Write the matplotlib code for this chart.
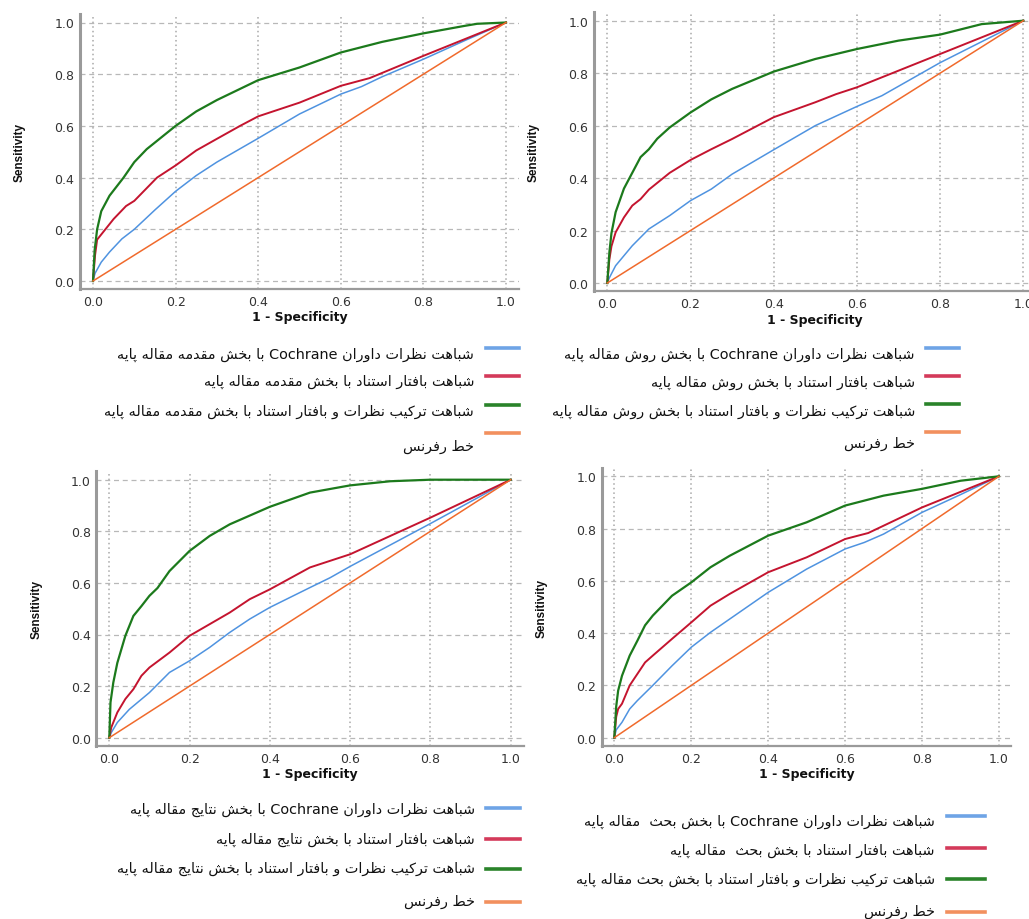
import re
import matplotlib
matplotlib.use("Agg")
import matplotlib.pyplot as plt
from matplotlib.lines import Line2D

# ------------------------------------------------------------------ data
tick_values = [0.0, 0.2, 0.4, 0.6, 0.8, 1.0]
tick_labels = ["0.0", "0.2", "0.4", "0.6", "0.8", "1.0"]
x_label = "1 - Specificity"
y_label = "Sensitivity"

ref_fpr = [0.0, 1.0]
ref_tpr = [0.0, 1.0]

# Panel 1 : introduction (مقدمه)
p1_blue_fpr = [0, 0.005, 0.02, 0.04, 0.07, 0.1, 0.15, 0.2, 0.25, 0.3, 0.4, 0.5, 0.6, 0.65, 0.7, 0.8, 0.9, 1.0]
p1_blue_tpr = [0, 0.03, 0.073, 0.112, 0.163, 0.2, 0.275, 0.347, 0.408, 0.46, 0.552, 0.646, 0.723, 0.752, 0.79, 0.858, 0.93, 1.0]
p1_red_fpr = [0, 0.005, 0.01, 0.03, 0.05, 0.08, 0.1, 0.155, 0.2, 0.25, 0.3, 0.356, 0.4, 0.5, 0.6, 0.67, 0.8, 1.0]
p1_red_tpr = [0, 0.1, 0.16, 0.2, 0.24, 0.29, 0.31, 0.40, 0.447, 0.505, 0.55, 0.60, 0.637, 0.69, 0.755, 0.785, 0.871, 1.0]
p1_green_fpr = [0, 0.004, 0.01, 0.02, 0.04, 0.074, 0.1, 0.13, 0.2, 0.25, 0.3, 0.4, 0.5, 0.6, 0.7, 0.8, 0.9, 0.93, 1.0]
p1_green_tpr = [0, 0.12, 0.2, 0.27, 0.33, 0.40, 0.46, 0.51, 0.60, 0.656, 0.70, 0.777, 0.826, 0.884, 0.925, 0.958, 0.987, 0.995, 1.0]

# Panel 2 : method (روش)
p2_blue_fpr = [0, 0.005, 0.02, 0.04, 0.06, 0.1, 0.15, 0.2, 0.25, 0.3, 0.4, 0.5, 0.6, 0.66, 0.8, 1.0]
p2_blue_tpr = [0, 0.02, 0.066, 0.104, 0.142, 0.206, 0.257, 0.314, 0.358, 0.415, 0.508, 0.60, 0.673, 0.714, 0.84, 1.0]
p2_red_fpr = [0, 0.005, 0.01, 0.02, 0.04, 0.06, 0.08, 0.1, 0.15, 0.2, 0.25, 0.3, 0.4, 0.5, 0.55, 0.6, 0.8, 1.0]
p2_red_tpr = [0, 0.09, 0.14, 0.193, 0.25, 0.295, 0.32, 0.356, 0.42, 0.469, 0.51, 0.549, 0.632, 0.689, 0.72, 0.746, 0.873, 1.0]
p2_green_fpr = [0, 0.005, 0.01, 0.02, 0.04, 0.06, 0.08, 0.1, 0.12, 0.15, 0.2, 0.25, 0.3, 0.4, 0.5, 0.6, 0.7, 0.8, 0.9, 1.0]
p2_green_tpr = [0, 0.117, 0.19, 0.27, 0.36, 0.42, 0.48, 0.51, 0.55, 0.593, 0.65, 0.70, 0.74, 0.806, 0.854, 0.892, 0.924, 0.947, 0.987, 1.0]

# Panel 3 : results (نتایج)
p3_blue_fpr = [0, 0.005, 0.02, 0.05, 0.1, 0.15, 0.2, 0.25, 0.3, 0.35, 0.4, 0.5, 0.55, 0.6, 0.8, 1.0]
p3_blue_tpr = [0, 0.02, 0.059, 0.11, 0.175, 0.253, 0.298, 0.35, 0.408, 0.46, 0.505, 0.582, 0.62, 0.664, 0.83, 1.0]
p3_red_fpr = [0, 0.005, 0.02, 0.04, 0.06, 0.08, 0.1, 0.15, 0.2, 0.25, 0.3, 0.35, 0.4, 0.5, 0.6, 0.8, 1.0]
p3_red_tpr = [0, 0.04, 0.098, 0.15, 0.188, 0.24, 0.272, 0.33, 0.395, 0.44, 0.485, 0.537, 0.575, 0.66, 0.711, 0.853, 1.0]
p3_green_fpr = [0, 0.003, 0.01, 0.02, 0.04, 0.06, 0.08, 0.1, 0.12, 0.15, 0.2, 0.25, 0.3, 0.4, 0.5, 0.6, 0.7, 0.8, 1.0]
p3_green_tpr = [0, 0.137, 0.214, 0.29, 0.395, 0.472, 0.51, 0.55, 0.58, 0.646, 0.724, 0.782, 0.827, 0.895, 0.95, 0.978, 0.994, 1.0, 1.0]

# Panel 4 : discussion (بحث)
p4_blue_fpr = [0, 0.005, 0.02, 0.04, 0.06, 0.1, 0.15, 0.2, 0.25, 0.3, 0.4, 0.5, 0.6, 0.65, 0.7, 0.8, 0.9, 1.0]
p4_blue_tpr = [0, 0.03, 0.059, 0.11, 0.142, 0.2, 0.275, 0.346, 0.403, 0.454, 0.556, 0.645, 0.722, 0.747, 0.779, 0.862, 0.93, 1.0]
p4_red_fpr = [0, 0.005, 0.01, 0.02, 0.04, 0.06, 0.08, 0.1, 0.15, 0.2, 0.25, 0.3, 0.4, 0.5, 0.6, 0.66, 0.8, 1.0]
p4_red_tpr = [0, 0.08, 0.11, 0.13, 0.2, 0.244, 0.288, 0.314, 0.378, 0.441, 0.505, 0.55, 0.633, 0.69, 0.76, 0.783, 0.881, 1.0]
p4_green_fpr = [0, 0.005, 0.01, 0.02, 0.04, 0.06, 0.08, 0.1, 0.15, 0.2, 0.25, 0.3, 0.4, 0.5, 0.6, 0.7, 0.8, 0.9, 1.0]
p4_green_tpr = [0, 0.12, 0.18, 0.237, 0.314, 0.371, 0.43, 0.467, 0.543, 0.594, 0.652, 0.696, 0.773, 0.824, 0.888, 0.926, 0.952, 0.983, 1.0]

p1_labels = ["شباهت نظرات داوران Cochrane با بخش مقدمه مقاله پایه",
             "شباهت بافتار استناد با بخش مقدمه مقاله پایه",
             "شباهت ترکیب نظرات و بافتار استناد با بخش مقدمه مقاله پایه",
             "خط رفرنس"]
p2_labels = ["شباهت نظرات داوران Cochrane با بخش روش مقاله پایه",
             "شباهت بافتار استناد با بخش روش مقاله پایه",
             "شباهت ترکیب نظرات و بافتار استناد با بخش روش مقاله پایه",
             "خط رفرنس"]
p3_labels = ["شباهت نظرات داوران Cochrane با بخش نتایج مقاله پایه",
             "شباهت بافتار استناد با بخش نتایج مقاله پایه",
             "شباهت ترکیب نظرات و بافتار استناد با بخش نتایج مقاله پایه",
             "خط رفرنس"]
p4_labels = ["شباهت نظرات داوران Cochrane با بخش بحث  مقاله پایه",
             "شباهت بافتار استناد با بخش بحث  مقاله پایه",
             "شباهت ترکیب نظرات و بافتار استناد با بخش بحث مقاله پایه",
             "خط رفرنس"]

# ------------------------------------------------------------------ Arabic shaping
FORMS = {'ا': (0xFE8D, 2), 'ب': (0xFE8F, 4), 'ت': (0xFE95, 4), 'ث': (0xFE99, 4),
         'ج': (0xFE9D, 4), 'ح': (0xFEA1, 4), 'خ': (0xFEA5, 4), 'د': (0xFEA9, 2),
         'ذ': (0xFEAB, 2), 'ر': (0xFEAD, 2), 'ز': (0xFEAF, 2), 'س': (0xFEB1, 4),
         'ش': (0xFEB5, 4), 'ص': (0xFEB9, 4), 'ض': (0xFEBD, 4), 'ط': (0xFEC1, 4),
         'ظ': (0xFEC5, 4), 'ع': (0xFEC9, 4), 'غ': (0xFECD, 4), 'ف': (0xFED1, 4),
         'ق': (0xFED5, 4), 'ل': (0xFEDD, 4), 'م': (0xFEE1, 4), 'ن': (0xFEE5, 4),
         'ه': (0xFEE9, 4), 'و': (0xFEED, 2), 'پ': (0xFB56, 4), 'چ': (0xFB7A, 4),
         'ژ': (0xFB8A, 2), 'ک': (0xFB8E, 4), 'گ': (0xFB92, 4), 'ی': (0xFBFC, 4)}


def shape(text):
    out = []
    n = len(text)
    for i, ch in enumerate(text):
        if ch not in FORMS:
            out.append(ch)
            continue
        base, nf = FORMS[ch]
        prev = text[i - 1] if i > 0 else ''
        nxt = text[i + 1] if i + 1 < n else ''
        jp = prev in FORMS and FORMS[prev][1] == 4
        jn = nf == 4 and nxt in FORMS
        if jp and jn:
            idx = 3
        elif jp:
            idx = 1
        elif jn:
            idx = 2
        else:
            idx = 0
        out.append(chr(base + idx))
    vis = ''.join(out)[::-1]
    vis = re.sub(r'[A-Za-z0-9.]+', lambda m: m.group(0)[::-1], vis)
    return vis


# ------------------------------------------------------------------ figure
W, H = 1029, 920
fig = plt.figure(figsize=(W / 100, H / 100), dpi=100)
fig.patch.set_facecolor("white")

C_BLUE = "#4f93e0"
C_RED = "#c4142f"
C_GREEN = "#1c7a1c"
C_ORANGE = "#f06a2c"
S_BLUE = "#6ea4e6"
S_RED = "#d43a5a"
S_GREEN = "#2a832a"
S_ORANGE = "#f2905e"
M = 0.032


def add_panel(x0, x1, y0, y1, curves):
    ux = x1 - x0
    uy = y0 - y1
    left = x0 - M * ux
    right = x1 + M * ux
    top = y1 - M * uy
    bottom = y0 + M * uy
    ax = fig.add_axes([left / W, 1 - bottom / H, (right - left) / W, (bottom - top) / H])
    ax.set_xlim(-M, 1 + M)
    ax.set_ylim(-M, 1 + M)
    for s in ("top", "right"):
        ax.spines[s].set_visible(False)
    ax.spines["left"].set_color("#9a9a9a")
    ax.spines["left"].set_linewidth(2.2)
    ax.spines["bottom"].set_color("#9a9a9a")
    ax.spines["bottom"].set_linewidth(1.6)
    ax.set_xticks(tick_values)
    ax.set_yticks(tick_values)
    ax.set_xticklabels(tick_labels)
    ax.set_yticklabels(tick_labels)
    ax.tick_params(length=0, labelsize=9, labelcolor="#333333", pad=4)
    for v in tick_values:
        ax.axhline(v, color="#b8b8b8", lw=0.9, ls=(0, (4, 3)), zorder=0)
        ax.axvline(v, color="#a8a8a8", lw=1.1, ls=(0, (1, 2)), zorder=0)
    fx, fy, col, lw = curves
    for xs, ys, c, w in zip(fx, fy, col, lw):
        ax.plot(xs, ys, color=c, lw=w, solid_joinstyle="round")
    ax.text(0.5, -0.10, x_label, transform=ax.transAxes, ha="center", va="center",
            fontsize=9, fontweight="bold", color="#111111")
    ax.text(-60 / (right - left), 0.5, y_label, transform=ax.transAxes, rotation=90,
            ha="center", va="center", fontsize=8.5, fontweight="bold",
            family="Liberation Sans", color="#111111")
    return ax


def add_legend(labels, text_right, sw_x0, sw_x1, sw_y, text_y, fs):
    cols = [S_BLUE, S_RED, S_GREEN, S_ORANGE]
    for lab, c, sy, ty in zip(labels, cols, sw_y, text_y):
        fig.add_artist(Line2D([sw_x0 / W, sw_x1 / W], [1 - sy / H, 1 - sy / H],
                              color=c, lw=2.6, transform=fig.transFigure))
        fig.text(text_right / W, 1 - ty / H, shape(lab), ha="right", va="center",
                 fontsize=fs, family="DejaVu Sans", color="#111111")


widths = [1.1, 1.4, 1.6, 1.1]
colors = [C_BLUE, C_RED, C_GREEN, C_ORANGE]

add_panel(93, 506, 282, 23.5,
          ([p1_blue_fpr, p1_red_fpr, p1_green_fpr, ref_fpr],
           [p1_blue_tpr, p1_red_tpr, p1_green_tpr, ref_tpr], colors, widths))
add_panel(607.3, 1023.3, 284, 21.7,
          ([p2_blue_fpr, p2_red_fpr, p2_green_fpr, ref_fpr],
           [p2_blue_tpr, p2_red_tpr, p2_green_tpr, ref_tpr], colors, widths))
add_panel(109.3, 510.7, 738.7, 480.7,
          ([p3_blue_fpr, p3_red_fpr, p3_green_fpr, ref_fpr],
           [p3_blue_tpr, p3_red_tpr, p3_green_tpr, ref_tpr], colors, widths))
add_panel(614.3, 999, 738.7, 477.3,
          ([p4_blue_fpr, p4_red_fpr, p4_green_fpr, ref_fpr],
           [p4_blue_tpr, p4_red_tpr, p4_green_tpr, ref_tpr], colors, widths))

add_legend(p1_labels, 474, 486, 519, [349, 377, 406, 434], [355, 382, 412, 447], 10.4)
add_legend(p2_labels, 915, 926, 959, [349, 377, 405, 433], [355, 383, 412, 444], 10.4)
add_legend(p3_labels, 475, 486, 520, [809, 840, 870, 903], [810, 840, 869, 902], 10.4)
add_legend(p4_labels, 935, 947, 985, [817, 849, 880, 913], [822, 851, 880, 912], 10.4)

fig.savefig("out.png", dpi=100, facecolor="white")
